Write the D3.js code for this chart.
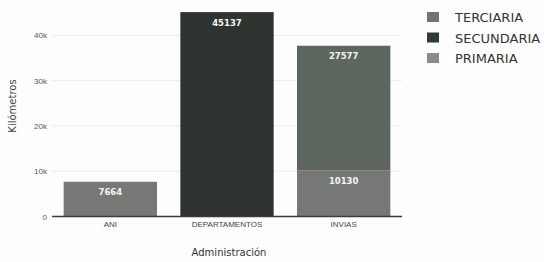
<!DOCTYPE html>
<html>
<head>
<meta charset="utf-8">
<script src="https://cdn.jsdelivr.net/npm/d3@7"></script>
<style>
  body { margin: 0; background: #fdfdfd; }
  svg { display: block; font-family: "DejaVu Sans", Verdana, sans-serif; }
</style>
</head>
<body>
<script>
//=========================== data ============================================

var categories = ["ANI", "DEPARTAMENTOS", "INVIAS"];
var seriesNames = ["PRIMARIA", "SECUNDARIA", "TERCIARIA"];
var primaria   = [7664, 0, 10130];
var secundaria = [0, 45137, 0];
var terciaria  = [0, 0, 27577];
var yTicks = [0, 10000, 20000, 30000, 40000];
var tickLabels = ["0", "10k", "20k", "30k", "40k"];

var colors = {
    PRIMARIA:   "#767876",
    SECUNDARIA: "#2f3431",
    TERCIARIA:  "#5e675f"
};
var legendColors = {
    PRIMARIA:   "#8a8c8a",
    SECUNDARIA: "#2f3a38",
    TERCIARIA:  "#6b776e"
};

//=========================== build ===========================================

var W = 544, H = 262;

var svg = d3.select("body").append("svg")
    .attr("width", W)
    .attr("height", H);

svg.append("rect").attr("width", W).attr("height", H).attr("fill", "#fdfdfd");

var x = d3.scaleBand()
    .domain(categories)
    .range([52, 402])
    .paddingInner(0.2)
    .paddingOuter(0.1);

var y = d3.scaleLinear()
    .domain([0, 47700])
    .range([216.5, 0.5]);

// table for stacking
var table = categories.map(function(c, i) {
    return { cat: c, PRIMARIA: primaria[i], SECUNDARIA: secundaria[i], TERCIARIA: terciaria[i] };
});
var stacked = d3.stack().keys(seriesNames)(table);

// gridlines
svg.append("g")
    .selectAll("line")
    .data(yTicks.slice(1))
    .enter().append("line")
    .attr("x1", 52).attr("x2", 402)
    .attr("y1", function(d){ return y(d); })
    .attr("y2", function(d){ return y(d); })
    .attr("stroke", "#ececec")
    .attr("stroke-width", 1);

// y axis labels
var yAxis = d3.axisLeft(y)
    .tickValues(yTicks)
    .tickSize(0)
    .tickPadding(3)
    .tickFormat(function(d, i){ return tickLabels[i]; });

var gy = svg.append("g")
    .attr("transform", "translate(50,0)")
    .call(yAxis);
gy.select(".domain").remove();
gy.selectAll("text")
    .attr("fill", "#555")
    .style("font-size", "8px");

// bars
var layers = svg.append("g")
    .selectAll("g")
    .data(stacked)
    .enter().append("g")
    .attr("fill", function(d){ return colors[d.key]; });

layers.selectAll("rect")
    .data(function(d){ return d.filter(function(s){ return s[1] - s[0] > 0; }); })
    .enter().append("rect")
    .attr("x", function(d){ return x(d.data.cat); })
    .attr("width", x.bandwidth())
    .attr("y", function(d){ return y(d[1]); })
    .attr("height", function(d){ return y(d[0]) - y(d[1]); });

// value labels (inside end)
layers.selectAll("text")
    .data(function(d){ var k = d.key; return d.filter(function(s){ return s[1] - s[0] > 0; }).map(function(s){ s.key = k; return s; }); })
    .enter().append("text")
    .attr("x", function(d){ return x(d.data.cat) + x.bandwidth() / 2; })
    .attr("y", function(d){ return y(d[1]) + 13.5; })
    .attr("text-anchor", "middle")
    .attr("fill", "#f4f4f4")
    .style("font-size", "8.5px")
    .style("font-weight", "bold")
    .text(function(d){ return d.data[d.key]; });

// zero line
svg.append("line")
    .attr("x1", 52).attr("x2", 402)
    .attr("y1", y(0)).attr("y2", y(0))
    .attr("stroke", "#3a3a3a")
    .attr("stroke-width", 1.5);

// x axis labels
var xAxis = d3.axisBottom(x).tickSize(0).tickPadding(5);
var gx = svg.append("g")
    .attr("transform", "translate(0," + y(0) + ")")
    .call(xAxis);
gx.select(".domain").remove();
gx.selectAll("text")
    .attr("fill", "#444")
    .style("font-size", "8px");

// axis titles
svg.append("text")
    .attr("x", 229)
    .attr("y", 256)
    .attr("text-anchor", "middle")
    .attr("fill", "#333")
    .style("font-size", "10px")
    .text("Administración");

svg.append("text")
    .attr("transform", "translate(16,106) rotate(-90)")
    .attr("text-anchor", "middle")
    .attr("fill", "#444")
    .style("font-size", "10px")
    .text("Kilómetros");

// legend (reversed order, like stacked plotly)
var legend = svg.append("g")
    .selectAll("g")
    .data(seriesNames.slice().reverse())
    .enter().append("g")
    .attr("transform", function(d, i){ return "translate(427," + (12 + i * 20.5) + ")"; });

legend.append("rect")
    .attr("width", 12).attr("height", 10)
    .attr("fill", function(d){ return legendColors[d]; });

legend.append("text")
    .attr("x", 28)
    .attr("y", 10)
    .attr("fill", "#333")
    .style("font-size", "13px")
    .text(function(d){ return d; });
</script>
</body>
</html>
